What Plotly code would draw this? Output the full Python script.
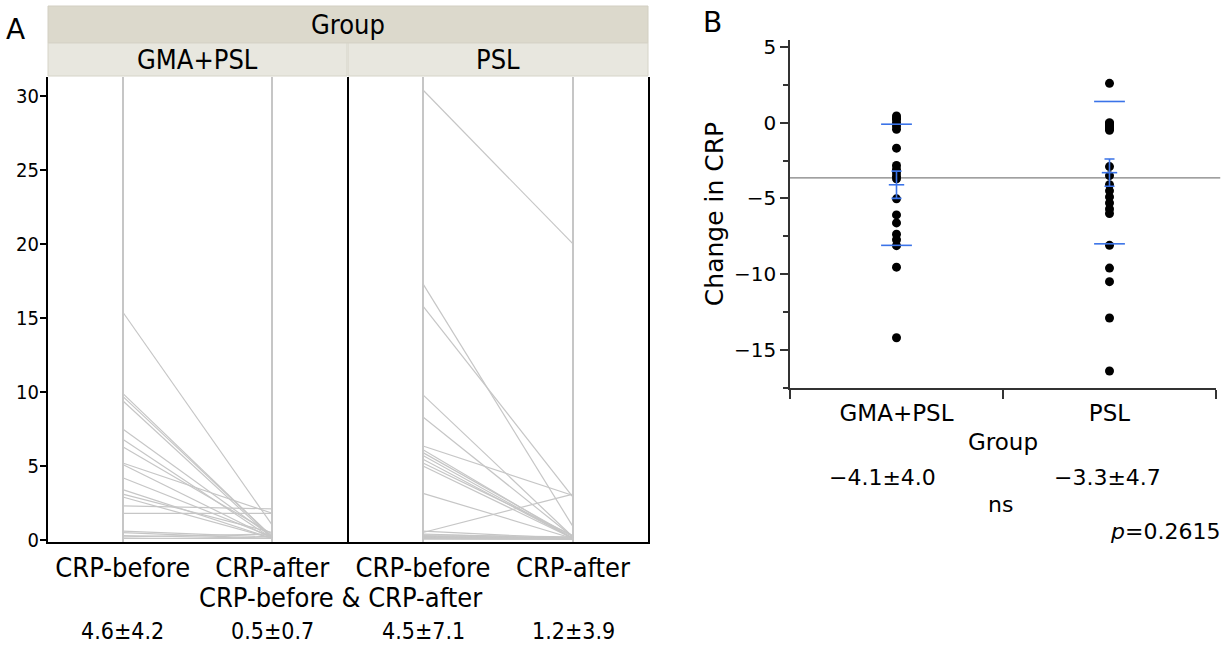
import plotly.graph_objects as go

W, H = 1228, 648

# ---------------- Panel A data (paired CRP values) ----------------
timepoints = ["CRP-before", "CRP-after"]
facet_groups = ["GMA+PSL", "PSL"]
gma_before = [15.4, 9.9, 9.7, 9.4, 7.5, 6.8, 6.3, 5.2, 5.1, 4.2, 3.4, 3.1, 2.9, 2.3, 1.8, 0.6, 0.5, 0.3, 0.2, 0.1]
gma_after = [1.0, 0.2, 0.2, 0.1, 0.2, 0.1, 0.4, 1.8, 0.1, 0.2, 0.1, 0.5, 0.1, 2.1, 1.8, 0.2, 0.1, 0.1, 0.4, 0.1]
psl_before = [30.4, 17.3, 15.8, 9.8, 8.3, 6.35, 6.1, 5.9, 5.7, 5.45, 5.2, 5.0, 3.15, 0.6, 0.5, 0.4, 0.35,
              0.3, 0.25, 0.2, 0.2, 0.15, 0.1, 0.1, 0.1, 0.1, 0.05]
psl_after = [20.0, 0.9, 2.9, 0.2, 0.2, 3.0, 0.1, 0.2, 0.1, 0.1, 0.3, 0.1, 0.1, 0.1, 3.1, 0.1, 0.2,
             0.1, 0.1, 0.1, 0.05, 0.1, 0.05, 0.1, 0.05, 0.1, 0.05]
a_stats = [["4.6±4.2", "0.5±0.7"], ["4.5±7.1", "1.2±3.9"]]
a_yticks = [0, 5, 10, 15, 20, 25, 30]

# ---------------- Panel B data (change in CRP) ----------------
groups_b = ["GMA+PSL", "PSL"]
change_gma = [0.44, 0.3, 0.22, 0.0, -0.22, -0.44, -1.68, -2.83, -3.09, -3.31, -3.53, -3.71,
              -5.03, -6.09, -6.62, -7.37, -7.73, -8.12, -9.54, -14.2]
change_psl = [2.6, 0.0, -0.05, -0.1, -0.1, -0.15, -0.2, -0.2, -0.25, -0.3, -0.35, -0.4, -0.5,
              -2.9, -3.5, -4.1, -4.5, -4.9, -5.3, -5.7, -6.0, -8.1, -9.6, -10.5, -12.9, -16.4]
group_means = [-4.1, -3.3]
group_sds = [4.0, 4.7]
group_ses = [0.9, 0.9]
grand_mean = -3.64
b_stats = ["−4.1±4.0", "−3.3±4.7"]
b_yticks = [-15, -10, -5, 0, 5]
p_value = "0.2615"


def fx(px):
    return px / W


def fy(py):
    return 1 - py / H


FA = "DejaVu Sans Condensed, DejaVu Sans"
FB = "DejaVu Sans"
LINE_GREY = "#c6c6c6"
BLUE = "#3a73e8"

fig = go.Figure()


def pairs(before, after):
    xs, ys = [], []
    for b, a in zip(before, after):
        xs += [0, 1, None]
        ys += [b, a, None]
    return xs, ys


for i, (bef, aft) in enumerate([(gma_before, gma_after), (psl_before, psl_after)]):
    xs, ys = pairs(bef, aft)
    fig.add_trace(go.Scatter(x=xs, y=ys, mode="lines", line=dict(color=LINE_GREY, width=1.2),
                             xaxis="x" if i == 0 else "x2", yaxis="y" if i == 0 else "y2",
                             showlegend=False, hoverinfo="skip"))

# Panel B points
for i, vals in enumerate([change_gma, change_psl]):
    fig.add_trace(go.Scatter(x=[i] * len(vals), y=vals, mode="markers",
                             marker=dict(color="black", size=9), xaxis="x3", yaxis="y3",
                             showlegend=False))

# SD lines
sd_x, sd_y = [], []
for i, (m, s) in enumerate(zip(group_means, group_sds)):
    sd_x += [i, i]
    sd_y += [m + s, m - s]
fig.add_trace(go.Scatter(x=sd_x, y=sd_y, mode="markers",
                         marker=dict(symbol="line-ew", size=22, line=dict(color=BLUE, width=1.6)),
                         xaxis="x3", yaxis="y3", showlegend=False))
# Mean with SE error bars
fig.add_trace(go.Scatter(x=list(range(len(group_means))), y=group_means, mode="markers",
                         marker=dict(symbol="line-ew", size=11, line=dict(color=BLUE, width=1.6)),
                         error_y=dict(type="data", array=group_ses, color=BLUE, thickness=1.6, width=5),
                         xaxis="x3", yaxis="y3", showlegend=False))

axis_common = dict(showline=True, linecolor="black", linewidth=2, zeroline=False, fixedrange=True)

fig.update_layout(
    width=W, height=H, margin=dict(l=0, r=0, t=0, b=0, autoexpand=False),
    paper_bgcolor="white", plot_bgcolor="white",
    xaxis=dict(domain=[fx(48), fx(347)], anchor="y", range=[-0.5, 1.5], tickvals=[0, 1],
               ticktext=timepoints, ticks="", showgrid=True, gridcolor=LINE_GREY, gridwidth=1.5,
               tickfont=dict(family=FA, size=27, color="black"), ticklabelstandoff=1, **axis_common),
    xaxis2=dict(domain=[fx(348), fx(648)], anchor="y2", range=[-0.5, 1.5], tickvals=[0, 1],
                ticktext=timepoints, ticks="", showgrid=True, gridcolor=LINE_GREY, gridwidth=1.5,
                tickfont=dict(family=FA, size=27, color="black"), ticklabelstandoff=1, **axis_common),
    yaxis=dict(domain=[fy(542), fy(77)], anchor="x", range=[-0.14, 31.28], tickvals=a_yticks,
               ticks="outside", ticklen=6, tickwidth=1.5, tickcolor="black", mirror=True, showgrid=False,
               tickfont=dict(family=FA, size=20, color="black"), ticklabelstandoff=-3, **axis_common),
    yaxis2=dict(domain=[fy(542), fy(77)], anchor="x2", range=[-0.14, 31.28], side="right",
                ticks="", showticklabels=False, showgrid=False, **axis_common),
    xaxis3=dict(domain=[fx(790), fx(1216)], anchor="y3", range=[-0.5, 1.5], tickvals=[0, 1],
                ticktext=groups_b, ticks="", showgrid=False, showline=True, linecolor="#333",
                linewidth=1.5, zeroline=False, fixedrange=True,
                minor=dict(tickmode="array", tickvals=[-0.5, 0.5, 1.5], ticks="outside", ticklen=9,
                           tickwidth=1.5, tickcolor="#333"),
                tickfont=dict(family=FB, size=23, color="black"), ticklabelstandoff=4,
                title=dict(text="Group", font=dict(family=FB, size=23, color="black"), standoff=9)),
    yaxis3=dict(domain=[fy(388), fy(40)], anchor="x3", range=[-17.52, 5.46], tickvals=b_yticks,
                ticks="outside", ticklen=8, tickwidth=1.5, tickcolor="#333", showgrid=False,
                showline=True, linecolor="#333", linewidth=1.5, zeroline=False, fixedrange=True,
                minor=dict(dtick=2.5, tick0=0, ticks="outside", ticklen=5, tickwidth=1.5, tickcolor="#333"),
                tickfont=dict(family=FB, size=20, color="black"),
                title=dict(text="Change in CRP", font=dict(family=FB, size=25, color="black"), standoff=3)),
)

shapes = []
# strips
shapes.append(dict(type="rect", xref="paper", yref="paper", x0=fx(48), x1=fx(648), y0=fy(43), y1=fy(6),
                   fillcolor="#dcd9cc", line=dict(color="#d2cfc2", width=1), layer="above"))
for x0, x1 in [(48, 347), (348, 648)]:
    shapes.append(dict(type="rect", xref="paper", yref="paper", x0=fx(x0), x1=fx(x1), y0=fy(76), y1=fy(43),
                       fillcolor="#e8e7df", line=dict(color="#d6d4c8", width=1), layer="above"))
# grand mean line in panel B
shapes.append(dict(type="line", xref="x3 domain", yref="y3", x0=0, x1=1.01, y0=grand_mean, y1=grand_mean,
                   line=dict(color="#808080", width=1.3), layer="below"))
fig.update_layout(shapes=shapes)

ann = []


def add_text(text, px, py, size, family, xanchor="center"):
    ann.append(dict(text=text, x=fx(px), y=fy(py), xref="paper", yref="paper", showarrow=False,
                    xanchor=xanchor, yanchor="middle", font=dict(family=family, size=size, color="black")))


add_text("A", 15, 30, 28, FB)
add_text("B", 712, 22, 28, FB)
add_text("Group", 348, 25, 27, FA)
for name, (x0, x1) in zip(facet_groups, [(48, 347), (348, 648)]):
    add_text(name, (x0 + x1) / 2, 60, 27, FA)
add_text("CRP-before &amp; CRP-after", 340, 597, 27, FA)
for fi, xr in enumerate(["x", "x2"]):
    for ti in range(2):
        ann.append(dict(text=a_stats[fi][ti], x=ti, y=fy(631), xref=xr, yref="paper", showarrow=False,
                        xanchor="center", yanchor="middle",
                        font=dict(family=FA, size=23, color="black")))
for txt, px in zip(b_stats, [882, 1107]):
    add_text(txt, px, 478, 22, FB)
add_text("ns", 1000, 504, 22, FB)
add_text("<i>p</i>=" + p_value, 1222, 531, 22, FB, xanchor="right")
fig.update_layout(annotations=ann)

fig.write_html("out.html", config={"displayModeBar": False},
               post_script="document.body.style.margin='0px';document.body.style.overflow='hidden';")
